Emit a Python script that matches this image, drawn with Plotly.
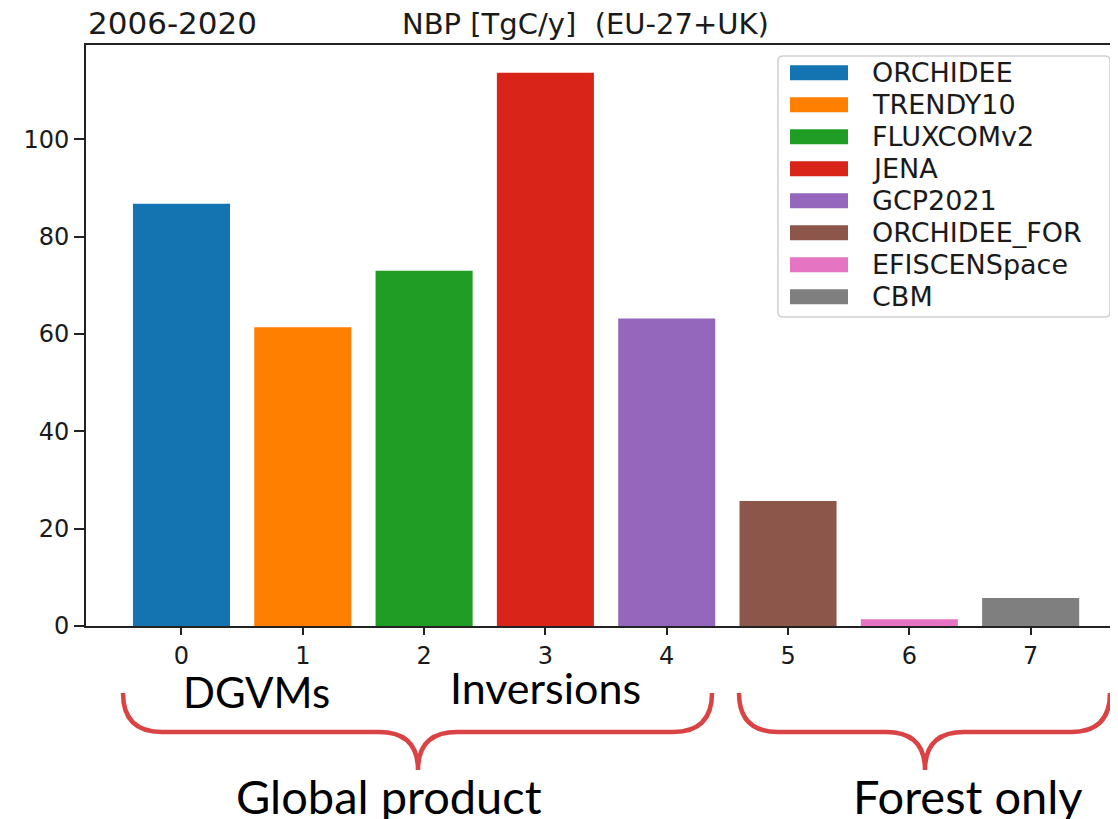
import plotly.graph_objects as go

# ---- data ----
names = ["ORCHIDEE", "TRENDY10", "FLUXCOMv2", "JENA", "GCP2021",
         "ORCHIDEE_FOR", "EFISCENSpace", "CBM"]
positions = [0, 1, 2, 3, 4, 5, 6, 7]
values = [86.8, 61.4, 73.0, 113.7, 63.2, 25.7, 1.4, 5.75]
colors = ["#1473b1", "#ff7f00", "#1f9d24", "#d92419", "#9467bd",
          "#8c564b", "#e574c3", "#7f7f7f"]
tick_vals_y = [0, 20, 40, 60, 80, 100]

W, H = 1118, 819
OFF = 8  # page body margin offset
L, R, T, B = 86, 1118, 45, 626  # plot area in screen pixels


def pxx(x):
    return (x - L) / (R - L)


def pxy(y):
    return (B - y) / (B - T)


fig = go.Figure()
for n, p, v, c in zip(names, positions, values, colors):
    fig.add_trace(go.Bar(x=[p], y=[v], name=n, width=0.8,
                         marker=dict(color=c, line=dict(width=0)),
                         showlegend=False))

axis_font = dict(family="DejaVu Sans", size=24, color="#1a1a1a")
fig.update_layout(
    width=W, height=H,
    margin=dict(l=L - OFF, r=W - R + OFF, t=T - OFF, b=H - B + OFF, pad=0),
    plot_bgcolor="white", paper_bgcolor="white",
    xaxis=dict(range=[-0.787, 7.72], tickvals=positions,
               ticktext=[str(p) for p in positions],
               showline=True, linecolor="#222", linewidth=2, mirror=True,
               ticks="outside", ticklen=7, tickwidth=2, tickcolor="#222",
               showgrid=False, zeroline=False, tickfont=axis_font),
    yaxis=dict(range=[0, 119.4], tickvals=tick_vals_y,
               showline=True, linecolor="#222", linewidth=2, mirror=False,
               ticks="outside", ticklen=10, tickwidth=2, tickcolor="#222",
               showgrid=False, zeroline=False, tickfont=axis_font),
    bargap=0.2,
)

shapes = []
annotations = []

# titles
annotations.append(dict(text="2006-2020", x=pxx(86), y=pxy(23), xref="paper", yref="paper",
                        xanchor="left", yanchor="middle", showarrow=False,
                        font=dict(family="DejaVu Sans", size=31, color="#1a1a1a")))
annotations.append(dict(text="NBP [TgC/y]  (EU-27+UK)", x=pxx(585), y=pxy(24),
                        xref="paper", yref="paper", xanchor="center", yanchor="middle",
                        showarrow=False,
                        font=dict(family="DejaVu Sans", size=29, color="#1a1a1a")))

# custom legend
bx0, bx1, by0, by1, r = 778, 1110, 56, 317, 5
box = (f"M{pxx(bx0 + r)},{pxy(by0)} L{pxx(bx1 - r)},{pxy(by0)} "
       f"Q{pxx(bx1)},{pxy(by0)} {pxx(bx1)},{pxy(by0 + r)} "
       f"L{pxx(bx1)},{pxy(by1 - r)} Q{pxx(bx1)},{pxy(by1)} {pxx(bx1 - r)},{pxy(by1)} "
       f"L{pxx(bx0 + r)},{pxy(by1)} Q{pxx(bx0)},{pxy(by1)} {pxx(bx0)},{pxy(by1 - r)} "
       f"L{pxx(bx0)},{pxy(by0 + r)} Q{pxx(bx0)},{pxy(by0)} {pxx(bx0 + r)},{pxy(by0)} Z")
shapes.append(dict(type="path", path=box, xref="paper", yref="paper",
                   line=dict(color="#cfcfcf", width=1.5), fillcolor="rgba(255,255,255,0.85)"))
for i, (n, c) in enumerate(zip(names, colors)):
    cy = 72.7 + 32 * i
    shapes.append(dict(type="rect", xref="paper", yref="paper",
                       x0=pxx(790), x1=pxx(848), y0=pxy(cy - 7.5), y1=pxy(cy + 7.5),
                       fillcolor=c, line=dict(width=0)))
    annotations.append(dict(text=n, x=pxx(870), y=pxy(cy), xref="paper", yref="paper",
                            xanchor="left", yanchor="middle", showarrow=False,
                            font=dict(family="DejaVu Sans", size=27, color="#1a1a1a")))


# braces
def brace(x0, x1, xm, ytop, yh, ytip, rr=39):
    return (f"M{pxx(x0)},{pxy(ytop)} Q{pxx(x0)},{pxy(yh)} {pxx(x0 + rr)},{pxy(yh)} "
            f"L{pxx(xm - rr)},{pxy(yh)} Q{pxx(xm)},{pxy(yh)} {pxx(xm)},{pxy(ytip)} "
            f"Q{pxx(xm)},{pxy(yh)} {pxx(xm + rr)},{pxy(yh)} "
            f"L{pxx(x1 - rr)},{pxy(yh)} Q{pxx(x1)},{pxy(yh)} {pxx(x1)},{pxy(ytop)}")


red = "#d94343"
shapes.append(dict(type="path", path=brace(123, 712, 418, 693, 732, 770),
                   xref="paper", yref="paper", line=dict(color=red, width=4.5)))
shapes.append(dict(type="path", path=brace(739, 1110, 925, 693, 732, 770),
                   xref="paper", yref="paper", line=dict(color=red, width=4.5)))

for txt, cx, cy, fs in [("DGVMs", 256.5, 692, 42), ("Inversions", 545.5, 687, 43),
                        ("Global product", 389, 796, 47), ("Forest only", 967.5, 796, 47)]:
    annotations.append(dict(text=txt, x=pxx(cx), y=pxy(cy), xref="paper", yref="paper",
                            xanchor="center", yanchor="middle", showarrow=False,
                            font=dict(family="Lato", size=fs, color="black")))

fig.update_layout(shapes=shapes, annotations=annotations)
fig.write_html("out.html")
